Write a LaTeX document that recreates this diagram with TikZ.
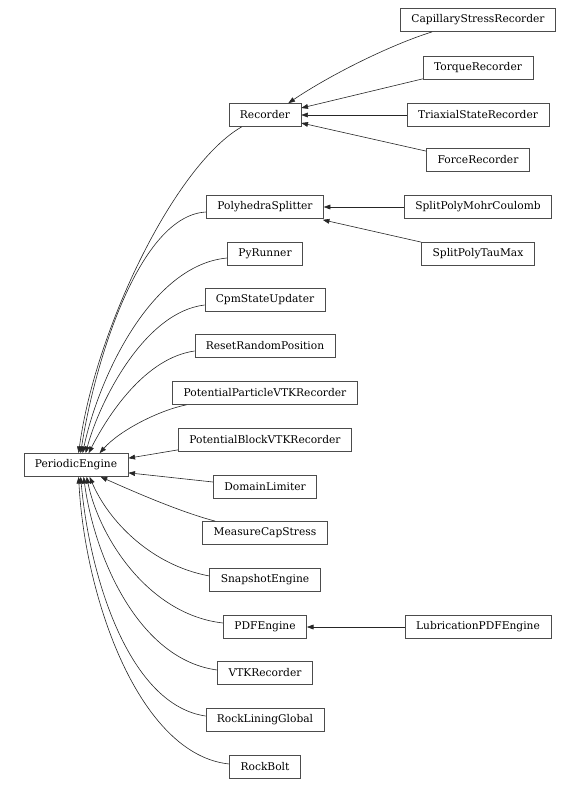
\documentclass[tikz,border=0pt]{standalone}
\usepackage{fontspec}
\setmainfont{DejaVu Serif}
\usetikzlibrary{arrows.meta,calc}
\begin{document}
\begin{tikzpicture}[x=0.75pt,y=-0.75pt,
  cls/.style={draw=black!70,line width=0.5pt,fill=white,inner xsep=8.2pt,inner ysep=0pt,
    minimum height=17.25pt,font=\fontsize{8}{9}\selectfont},
  edge/.style={draw=black!85,line width=0.45pt,-{Triangle[length=5pt,width=3.6pt]}}]
\useasboundingbox (0,0) rectangle (578,790);
\node[cls] (pe) at (76,465) {PeriodicEngine};
\node[cls] (rec) at (265,115) {Recorder};
\node[cls] (cap) at (478,20) {CapillaryStressRecorder};
\node[cls] (tor) at (478,68) {TorqueRecorder};
\node[cls] (tri) at (478,115) {TriaxialStateRecorder};
\node[cls] (frc) at (478,160) {ForceRecorder};
\node[cls] (poly) at (265,207) {PolyhedraSplitter};
\node[cls] (mohr) at (478,207) {SplitPolyMohrCoulomb};
\node[cls] (tau) at (478,254) {SplitPolyTauMax};
\node[cls] (pyr) at (265,254) {PyRunner};
\node[cls] (cpm) at (265,300) {CpmStateUpdater};
\node[cls] (rrp) at (265,346) {ResetRandomPosition};
\node[cls] (ppv) at (265,393) {PotentialParticleVTKRecorder};
\node[cls] (pbv) at (265,440) {PotentialBlockVTKRecorder};
\node[cls] (dom) at (265,487) {DomainLimiter};
\node[cls] (mcs) at (265,533) {MeasureCapStress};
\node[cls] (snap) at (265,580) {SnapshotEngine};
\node[cls] (pdf) at (265,627) {PDFEngine};
\node[cls] (lub) at (478,627) {LubricationPDFEngine};
\node[cls] (vtk) at (265,673) {VTKRecorder};
\node[cls] (rlg) at (265,720) {RockLiningGlobal};
\node[cls] (rb) at (265,767) {RockBolt};
% edges to PeriodicEngine (top)
\draw[edge] ($(rec.south west)+(13,0)$) .. controls (175,165) and (95,330) .. ($(pe.north west)+(55,0)$);
\draw[edge] ($(poly.west)+(0,5)$) .. controls (140,215) and (95,360) .. ($(pe.north west)+(57,0)$);
\draw[edge] ($(pyr.west)+(0,4)$) .. controls (150,265) and (98,380) .. ($(pe.north west)+(59,0)$);
\draw[edge] ($(cpm.west)+(0,5)$) .. controls (145,312) and (100,400) .. ($(pe.north west)+(62,0)$);
\draw[edge] ($(rrp.west)+(0,5)$) .. controls (145,358) and (108,415) .. ($(pe.north west)+(65,0)$);
\draw[edge] ($(ppv.south west)+(14,0)$) .. controls (160,410) and (120,430) .. ($(pe.north west)+(76,0)$);
\draw[edge] ($(pbv.south west)+(0,-2)$) -- ($(pe.north east)+(0,5)$);
\draw[edge] ($(dom.west)+(0,-5)$) -- ($(pe.south east)+(0,-4)$);
% edges to PeriodicEngine (bottom)
\draw[edge] ($(mcs.north west)+(13,0)$) .. controls (180,512) and (130,490) .. ($(pe.south west)+(77,0)$);
\draw[edge] ($(snap.west)+(0,-4)$) .. controls (150,565) and (108,520) .. ($(pe.south west)+(66,0)$);
\draw[edge] ($(pdf.west)+(0,-4)$) .. controls (150,615) and (100,540) .. ($(pe.south west)+(63,0)$);
\draw[edge] ($(vtk.west)+(0,-3)$) .. controls (140,660) and (95,560) .. ($(pe.south west)+(60,0)$);
\draw[edge] ($(rlg.west)+(0,-4)$) .. controls (130,705) and (90,580) .. ($(pe.south west)+(57,0)$);
\draw[edge] ($(rb.west)+(0,-3)$) .. controls (140,755) and (85,600) .. ($(pe.south west)+(55,0)$);
% Recorder children
\draw[edge] ($(cap.south west)+(32,0)$) .. controls (390,45) and (330,75) .. ($(rec.north east)+(-13,0)$);
\draw[edge] ($(tor.south west)+(0,-1)$) -- ($(rec.east)+(0,-7)$);
\draw[edge] (tri.west) -- (rec.east);
\draw[edge] ($(frc.north west)+(0,3)$) -- ($(rec.east)+(0,8)$);
% PolyhedraSplitter children
\draw[edge] (mohr.west) -- (poly.west -| poly.east);
\draw[edge] (tau.north west) -- ($(poly.south east)+(-1,1)$);
% PDFEngine child
\draw[edge] (lub.west) -- (pdf.east);
\end{tikzpicture}
\end{document}
